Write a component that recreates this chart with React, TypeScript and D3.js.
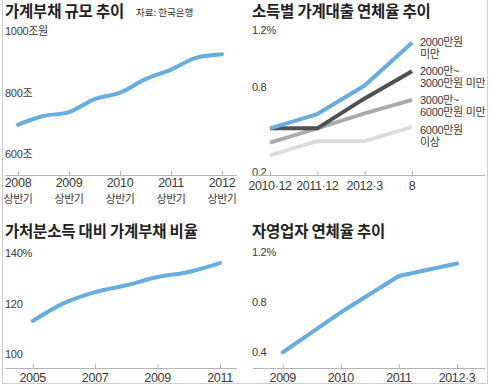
import React from 'react';
import * as d3 from 'd3';

// 가계부채 규모 (조원), 반기별
const debtPeriods = ['2008H1', '2008H2', '2009H1', '2009H2', '2010H1', '2010H2', '2011H1', '2011H2', '2012H1'];
const debtValues = [697, 725, 738, 780, 801, 845, 876, 915, 926];
const debtTickYears = ['2008', '2009', '2010', '2011', '2012'];
const debtTickPeriods = ['2008H1', '2009H1', '2010H1', '2011H1', '2012H1'];
const debtYTicks = [600, 800, 1000];

// 소득별 가계대출 연체율 (%)
const incomeDates = ['2010·12', '2011·12', '2012·3', '8'];
const incomeUnder2000 = [0.51, 0.61, 0.81, 1.11];
const income2000to3000 = [0.51, 0.51, 0.72, 0.91];
const income3000to6000 = [0.41, 0.51, 0.615, 0.71];
const incomeOver6000 = [0.32, 0.42, 0.42, 0.52];
const incomeYTicks = [0.2, 0.8, 1.2];

// 가처분소득 대비 가계부채 비율 (%)
const ratioYears = [2005, 2006, 2007, 2008, 2009, 2010, 2011];
const ratioValues = [113.1, 120.2, 124.6, 127.3, 130.6, 132.6, 136.1];
const ratioTickYears = [2005, 2007, 2009, 2011];
const ratioYTicks = [100, 120, 140];

// 자영업자 연체율 (%)
const selfDates = ['2009', '2010', '2011', '2012·3'];
const selfValues = [0.4, 0.72, 1.01, 1.11];
const selfYTicks = [0.4, 0.8, 1.2];

const FONT = '"Noto Sans CJK KR", "Noto Sans", sans-serif';
const NUM = '"Liberation Sans", "Noto Sans CJK KR", sans-serif';
const BLUE = '#66ade0';
const AXIS = '#b5b5b5';
const TEXT = '#3a3a3a';

const Axis = ({ x1, x2, y, ticks }: { x1: number; x2: number; y: number; ticks: number[] }) => (
  <g>
    <line x1={x1} x2={x2} y1={y + 0.5} y2={y + 0.5} stroke={AXIS} strokeWidth={1} />
    {ticks.map((t, i) => (
      <line key={i} x1={t + 0.5} x2={t + 0.5} y1={y - 4} y2={y} stroke={AXIS} strokeWidth={1} />
    ))}
  </g>
);

const YLabels = ({ x, ticks, scale, fmt }: { x: number; ticks: number[]; scale: (v: number) => number; fmt: (v: number, i: number) => string }) => (
  <g>
    {ticks.map((t, i) => (
      <text key={i} x={x} y={scale(t)} dy="0.35em" fontSize={11} fill={TEXT} fontFamily={NUM} letterSpacing={-0.3}>
        {fmt(t, i)}
      </text>
    ))}
  </g>
);

const Title = ({ x, y, children }: { x: number; y: number; children: React.ReactNode }) => (
  <text x={x} y={y} fontSize={15.5} fontWeight={700} fill="#222" fontFamily={FONT} letterSpacing={-0.2}>
    {children}
  </text>
);

export default function App() {
  // panel 1
  const x1 = d3.scalePoint<string>().domain(debtPeriods).range([18, 222]);
  const y1 = d3.scaleLinear().domain([600, 1000]).range([154.5, 31.5]);
  const line1 = d3.line<number>()
    .x((_, i) => x1(debtPeriods[i]) as number)
    .y(d => y1(d))
    .curve(d3.curveMonotoneX);

  // panel 2
  const x2 = d3.scalePoint<string>().domain(incomeDates).range([270, 412]);
  const y2 = d3.scaleLinear().domain([0.2, 1.2]).range([172.5, 30]);
  const line2 = d3.line<number>()
    .x((_, i) => x2(incomeDates[i]) as number)
    .y(d => y2(d));
  const incomeSeries = [
    { values: incomeOver6000, color: '#dcdcdc', label: ['6000만원', '이상'] },
    { values: income3000to6000, color: '#ababab', label: ['3000만~', '6000만원 미만'] },
    { values: income2000to3000, color: '#505050', label: ['2000만~', '3000만원 미만'] },
    { values: incomeUnder2000, color: BLUE, label: ['2000만원', '미만'] },
  ];
  const labelY = [134, 103.5, 75, 45.5];

  // panel 3
  const x3 = d3.scaleLinear().domain([2005, 2011]).range([32.7, 220]);
  const y3 = d3.scaleLinear().domain([100, 140]).range([354, 253.3]);
  const line3 = d3.line<number>()
    .x((_, i) => x3(ratioYears[i]))
    .y(d => y3(d))
    .curve(d3.curveMonotoneX);

  // panel 4
  const x4 = d3.scalePoint<string>().domain(selfDates).range([282.7, 457]);
  const y4 = d3.scaleLinear().domain([0.4, 1.2]).range([352.3, 252.3]);
  const line4 = d3.line<number>()
    .x((_, i) => x4(selfDates[i]) as number)
    .y(d => y4(d));

  return (
    <svg width={491} height={387} style={{ position: 'absolute', left: 0, top: 0, background: '#fff' }} fontFamily={FONT}>
      <rect x={0} y={0} width={491} height={387} fill="#fff" />
      {/* frame */}
      <line x1={2.5} x2={2.5} y1={0} y2={384} stroke="#cfcfcf" />
      <line x1={487.5} x2={487.5} y1={0} y2={384} stroke="#cfcfcf" />
      <line x1={2} x2={488} y1={383.5} y2={383.5} stroke="#cfcfcf" />

      {/* panel 1 */}
      <Title x={5} y={17}>가계부채 규모 추이</Title>
      <text x={136} y={16} fontSize={9.5} fill="#333" fontFamily={FONT}>자료: 한국은행</text>
      <YLabels x={5} ticks={debtYTicks} scale={y1} fmt={(v, i) => (i === 2 ? `${v}조원` : `${v}조`)} />
      <Axis x1={5} x2={237} y={175} ticks={debtTickPeriods.map(p => x1(p) as number)} />
      {debtTickPeriods.map((p, i) => (
        <g key={p}>
          <text x={x1(p)} y={187} textAnchor="middle" fontSize={12.5} fill={TEXT} fontFamily={NUM} letterSpacing={-0.3}>{debtTickYears[i]}</text>
          <text x={x1(p)} y={202.5} textAnchor="middle" fontSize={11} fill={TEXT} letterSpacing={-0.5}>상반기</text>
        </g>
      ))}
      <path d={line1(debtValues) ?? ''} fill="none" stroke={BLUE} strokeWidth={4} strokeLinecap="round" strokeLinejoin="round" />

      {/* panel 2 */}
      <Title x={252} y={17}>소득별 가계대출 연체율 추이</Title>
      <YLabels x={252} ticks={incomeYTicks} scale={y2} fmt={(v, i) => (i === 2 ? '1.2%' : String(v))} />
      <Axis x1={252} x2={485} y={175} ticks={incomeDates.map(d => x2(d) as number)} />
      {incomeDates.map(d => (
        <text key={d} x={x2(d)} y={190} textAnchor="middle" fontSize={12.5} fill={TEXT} fontFamily={NUM} letterSpacing={-0.4}>{d}</text>
      ))}
      {incomeSeries.map((s, i) => (
        <g key={i}>
          <path d={line2(s.values) ?? ''} fill="none" stroke={s.color} strokeWidth={4} strokeLinejoin="round" />
          <text x={420} y={labelY[i]} fontSize={11} fill={TEXT} fontFamily={NUM} letterSpacing={-0.3}>{s.label[0]}</text>
          <text x={420} y={labelY[i] + 12} fontSize={11} fill={TEXT} fontFamily={NUM} letterSpacing={-0.3}>{s.label[1]}</text>
        </g>
      ))}

      {/* panel 3 */}
      <Title x={5} y={237}>가처분소득 대비 가계부채 비율</Title>
      <YLabels x={5} ticks={ratioYTicks} scale={y3} fmt={(v, i) => (i === 2 ? `${v}%` : String(v))} />
      <Axis x1={5} x2={237} y={368} ticks={ratioTickYears.map(y => x3(y))} />
      {ratioTickYears.map(y => (
        <text key={y} x={x3(y)} y={382} textAnchor="middle" fontSize={12.5} fill={TEXT} fontFamily={NUM} letterSpacing={-0.3}>{y}</text>
      ))}
      <path d={line3(ratioValues) ?? ''} fill="none" stroke={BLUE} strokeWidth={4} strokeLinecap="round" strokeLinejoin="round" />

      {/* panel 4 */}
      <Title x={252} y={237}>자영업자 연체율 추이</Title>
      <YLabels x={252} ticks={selfYTicks} scale={y4} fmt={(v, i) => (i === 2 ? '1.2%' : String(v))} />
      <Axis x1={253} x2={485} y={368} ticks={selfDates.map(d => x4(d) as number)} />
      {selfDates.map(d => (
        <text key={d} x={x4(d)} y={382} textAnchor="middle" fontSize={12.5} fill={TEXT} fontFamily={NUM} letterSpacing={-0.4}>{d}</text>
      ))}
      <path d={line4(selfValues) ?? ''} fill="none" stroke={BLUE} strokeWidth={4} strokeLinecap="round" strokeLinejoin="round" />
    </svg>
  );
}
